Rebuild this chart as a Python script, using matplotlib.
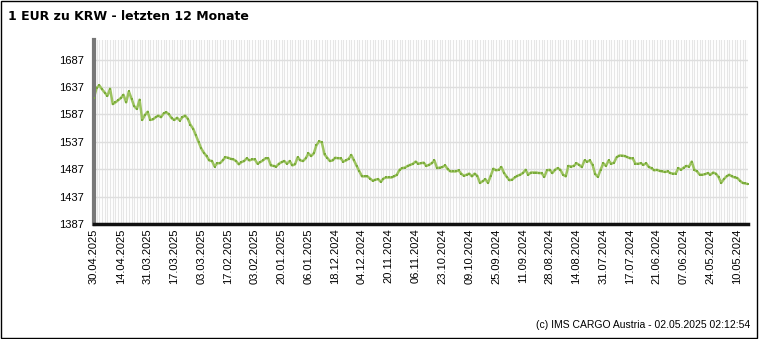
import numpy as np
import matplotlib
matplotlib.use("Agg")
import matplotlib.pyplot as plt
from matplotlib.patches import Rectangle

# Kurs EUR -> KRW, neuester Wert zuerst (ein Punkt pro Handelstag)
kurse = [
    1618, 1636, 1640, 1633, 1627, 1621, 1634, 1606, 1609, 1613,
    1617, 1623, 1609, 1629, 1616, 1602, 1597, 1614, 1577, 1586,
    1592, 1577, 1578, 1582, 1585, 1582, 1589, 1591, 1587, 1580,
    1577, 1581, 1576, 1582, 1585, 1579, 1568, 1561, 1549, 1537,
    1525, 1517, 1511, 1503, 1502, 1492, 1498, 1498, 1503, 1509,
    1508, 1506, 1505, 1502, 1496, 1500, 1502, 1507, 1503, 1505,
    1505, 1497, 1500, 1503, 1507, 1507, 1494, 1493, 1492, 1497,
    1500, 1502, 1497, 1502, 1494, 1496, 1509, 1503, 1502, 1507,
    1516, 1511, 1516, 1531, 1538, 1536, 1514, 1508, 1502, 1503,
    1508, 1507, 1507, 1501, 1503, 1506, 1513, 1503, 1493, 1483,
    1474, 1474, 1474, 1470, 1466, 1468, 1469, 1464, 1470, 1472,
    1472, 1472, 1474, 1477, 1486, 1489, 1490, 1493, 1495, 1497,
    1501, 1497, 1498, 1499, 1493, 1495, 1498, 1503, 1489, 1490,
    1491, 1494, 1487, 1483, 1483, 1483, 1485, 1479, 1475, 1477,
    1479, 1474, 1479, 1475, 1462, 1465, 1469, 1462, 1475, 1488,
    1485, 1486, 1491, 1480, 1473, 1467, 1468, 1472, 1475, 1477,
    1480, 1486, 1477, 1481, 1481, 1481, 1480, 1480, 1473, 1485,
    1486, 1480, 1486, 1489, 1486, 1477, 1474, 1493, 1492, 1493,
    1498, 1495, 1491, 1503, 1501, 1503, 1495, 1478, 1473, 1486,
    1498, 1493, 1503, 1497, 1499, 1509, 1512, 1512, 1511, 1509,
    1507, 1507, 1497, 1497, 1498, 1495, 1498, 1491, 1489, 1485,
    1486, 1484, 1483, 1482, 1483, 1480, 1479, 1479, 1489, 1486,
    1490, 1493, 1492, 1501, 1486, 1483, 1477, 1477, 1478, 1480,
    1477, 1481, 1479, 1473, 1462, 1469, 1474, 1477, 1474, 1472,
    1471, 1466, 1462, 1461, 1460,
]

# Beschriftung jeden 10. Handelstag
datums_labels = [
    "30.04.2025", "14.04.2025", "31.03.2025", "17.03.2025", "03.03.2025",
    "17.02.2025", "03.02.2025", "20.01.2025", "06.01.2025", "18.12.2024",
    "04.12.2024", "20.11.2024", "06.11.2024", "23.10.2024", "09.10.2024",
    "25.09.2024", "11.09.2024", "28.08.2024", "14.08.2024", "31.07.2024",
    "17.07.2024", "21.06.2024", "07.06.2024", "24.05.2024", "10.05.2024",
]
y_ticks = [1387, 1437, 1487, 1537, 1587, 1637, 1687]

W, H = 760, 339
fig = plt.figure(figsize=(W / 100, H / 100), dpi=100)
fig.patch.set_facecolor("white")

# Rahmen um das ganze Bild
fig.add_artist(Rectangle((0.5 / W, 1.5 / H), 756.5 / W, 337 / H, transform=fig.transFigure,
                         fill=False, edgecolor="black", linewidth=1.0))

ax = fig.add_axes([94 / W, (H - 224) / H, (748 - 94) / W, (224 - 40) / H])

x = np.arange(len(kurse))

# senkrechte Gitterlinien pro Datenpunkt
for xi in x:
    ax.axvline(xi, color="#e6e6e6", linewidth=0.8, zorder=0)
for yt in y_ticks:
    ax.axhline(yt, color="#dedede", linewidth=1.0, zorder=0)

ax.plot(x, kurse, color="#9cc35f", linewidth=1.8, zorder=2)
ax.plot(x, kurse, linestyle="none", marker="s", markersize=1.8,
        markeredgewidth=0, color="#7aab3c", zorder=3)

ax.set_xlim(0, len(kurse) - 1)
ax.set_ylim(1387, 1723)

ax.set_yticks(y_ticks)
ax.set_yticklabels([str(v) for v in y_ticks], fontfamily="Liberation Sans", fontsize=8)
ax.set_xticks(x[::10])
ax.set_xticklabels(datums_labels, rotation=90, fontfamily="Liberation Sans", fontsize=8)
ax.tick_params(axis="both", length=0, pad=3)
ax.tick_params(axis="y", pad=7)

for s in ["top", "right"]:
    ax.spines[s].set_visible(False)
ax.spines["left"].set_color("#777777")
ax.spines["left"].set_linewidth(3)
ax.spines["bottom"].set_color("#111111")
ax.spines["bottom"].set_linewidth(2.5)

fig.text(8 / W, 1 - 17 / H, "1 EUR zu KRW - letzten 12 Monate", fontfamily="DejaVu Sans",
         fontweight="bold", fontsize=9, va="center", ha="left")
fig.text(750 / W, 1 - 325 / H, "(c) IMS CARGO Austria - 02.05.2025 02:12:54",
         fontfamily="Liberation Sans", fontsize=7.5, va="center", ha="right")

fig.savefig("out.png", dpi=100)
